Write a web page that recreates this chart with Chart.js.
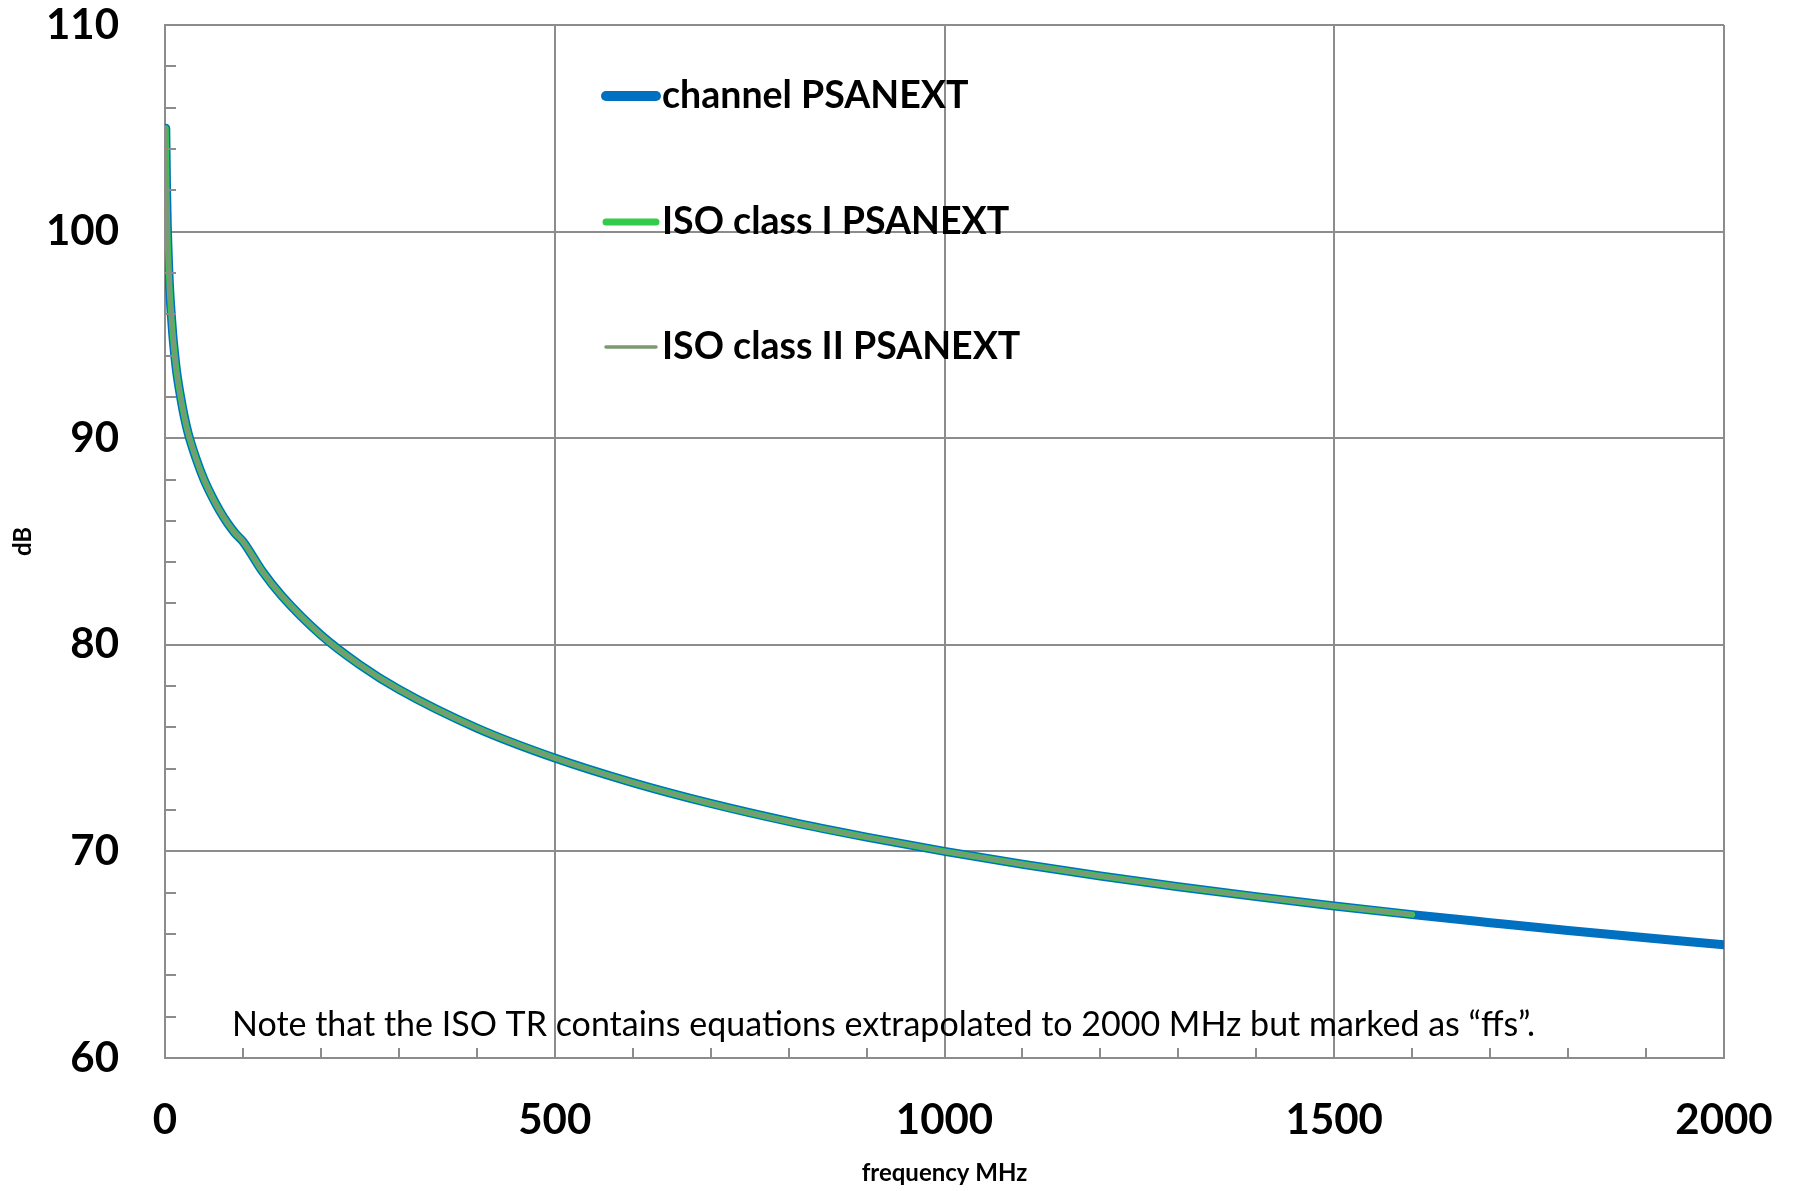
<!DOCTYPE html>
<html>
<head>
<meta charset="utf-8">
<script src="https://cdn.jsdelivr.net/npm/chart.js@4"></script>
<style>
    body { margin: 0; background: #fff; }
    #wrap { width: 1795px; height: 1191px; }
</style>
</head>
<body>
<div id="wrap"><canvas id="psanextChart" width="1795" height="1191"></canvas></div>
<script>
// DATA
const freqMHz = [1, 2, 3, 4, 5, 6, 8, 10, 12, 15, 20, 25, 30, 40, 50, 60, 70, 80, 90, 100,
    125, 150, 200, 250, 300, 400, 500, 600, 700, 800, 900, 1000, 1100, 1200, 1300, 1400, 1500,
    1600, 1700, 1800, 1900, 2000];
const channelDb = [105.0, 102.0, 100.2, 99.0, 98.0, 97.2, 96.0, 95.0, 94.2, 93.2, 92.0, 91.0, 90.2,
    89.0, 88.0, 87.2, 86.5, 85.9, 85.4, 85.0, 83.55, 82.36, 80.48, 79.03, 77.84, 75.97, 74.52, 73.33,
    72.32, 71.45, 70.69, 70.0, 69.38, 68.81, 68.29, 67.81, 67.36, 66.94, 66.55, 66.17, 65.82, 65.48];
// ISO curves stop at 1600 MHz and sit on top of the channel curve
const isoFreqMHz = freqMHz.filter(f => f <= 1600);
const isoClass1Db = channelDb.slice(0, isoFreqMHz.length);
const isoClass2Db = channelDb.slice(0, isoFreqMHz.length);

const seriesLabels = ['channel PSANEXT', 'ISO class I PSANEXT', 'ISO class II PSANEXT'];
const xTicks = [0, 500, 1000, 1500, 2000];
const yTicks = [60, 70, 80, 90, 100, 110];
const noteText = 'Note that the ISO TR contains equations extrapolated to 2000 MHz but marked as \u201cffs\u201d.';

const GRID = '#8c8c8c';

function toPoints(xs, ys) {
    return xs.map((x, i) => ({ x: x, y: ys[i] }));
}

// minor tick marks inside the plot + legend + note
const extrasPlugin = {
    id: 'extras',
    afterDatasetsDraw(chart) {
        const ctx = chart.ctx;
        const xs = chart.scales.x, ys = chart.scales.y;
        const area = chart.chartArea;
        ctx.save();
        ctx.strokeStyle = GRID;
        ctx.lineWidth = 2;
        for (let v = 100; v < 2000; v += 100) {
            if (v % 500 === 0) continue;
            const px = Math.round(xs.getPixelForValue(v));
            ctx.beginPath();
            ctx.moveTo(px, area.bottom);
            ctx.lineTo(px, area.bottom - 10);
            ctx.stroke();
        }
        for (let v = 62; v < 110; v += 2) {
            if (v % 10 === 0) continue;
            const py = Math.round(ys.getPixelForValue(v));
            ctx.beginPath();
            ctx.moveTo(area.left, py);
            ctx.lineTo(area.left + 11, py);
            ctx.stroke();
        }

        // legend
        const rows = [96, 222, 347];
        chart.data.datasets.forEach((ds, i) => {
            ctx.strokeStyle = ds.borderColor;
            ctx.lineWidth = ds.legendWidth;
            ctx.lineCap = 'round';
            ctx.beginPath();
            ctx.moveTo(606, rows[i]);
            ctx.lineTo(656, rows[i]);
            ctx.stroke();
            ctx.fillStyle = '#000';
            ctx.font = 'bold 37.5px Lato';
            ctx.textBaseline = 'middle';
            ctx.textAlign = 'left';
            ctx.fillText(ds.label, 662, rows[i]);
        });

        // note
        ctx.font = '34px Lato';
        ctx.fillStyle = '#000';
        ctx.textBaseline = 'middle';
        ctx.fillText(noteText, 232, 1025);
        ctx.restore();
    }
};

function initChart() {
    const ctx = document.getElementById('psanextChart').getContext('2d');
    new Chart(ctx, {
        type: 'line',
        data: {
            datasets: [{
                label: seriesLabels[0],
                data: toPoints(freqMHz, channelDb),
                borderColor: '#0070c0',
                borderWidth: 9,
                legendWidth: 10,
                order: 3
            }, {
                label: seriesLabels[1],
                data: toPoints(isoFreqMHz, isoClass1Db),
                borderColor: '#33cc4a',
                borderWidth: 6,
                legendWidth: 7,
                order: 2
            }, {
                label: seriesLabels[2],
                data: toPoints(isoFreqMHz, isoClass2Db),
                borderColor: '#7b9972',
                borderWidth: 4,
                legendWidth: 3.5,
                order: 1
            }]
        },
        options: {
            responsive: false,
            animation: false,
            layout: { padding: { top: 25, right: 71, left: 0, bottom: 0 } },
            elements: {
                point: { radius: 0 },
                line: { cubicInterpolationMode: 'monotone', borderCapStyle: 'round', borderJoinStyle: 'round' }
            },
            plugins: {
                legend: { display: false },
                tooltip: { enabled: false }
            },
            scales: {
                x: {
                    type: 'linear',
                    min: 0,
                    max: 2000,
                    afterBuildTicks: s => { s.ticks = xTicks.map(v => ({ value: v })); },
                    afterFit: s => { s.height = 133; s.paddingLeft = 0; s.paddingRight = 0; },
                    grid: { color: GRID, lineWidth: 2, drawTicks: false },
                    border: { color: GRID, width: 2 },
                    ticks: {
                        color: '#000',
                        padding: 37,
                        maxRotation: 0,
                        callback: v => String(v),
                        font: { family: 'Lato', weight: 'bold', size: 42 }
                    },
                    title: {
                        display: true,
                        text: 'frequency MHz',
                        color: '#000',
                        padding: { top: 0, bottom: 3.6 },
                        font: { family: 'Lato', weight: 'bold', size: 24 }
                    }
                },
                y: {
                    min: 60,
                    max: 110,
                    afterBuildTicks: s => { s.ticks = yTicks.map(v => ({ value: v })); },
                    afterFit: s => { s.width = 165; s.paddingTop = 0; s.paddingBottom = 0; },
                    grid: { color: GRID, lineWidth: 2, drawTicks: false },
                    border: { color: GRID, width: 2 },
                    ticks: {
                        color: '#000',
                        padding: 46,
                        callback: v => String(v),
                        font: { family: 'Lato', weight: 'bold', size: 42 }
                    },
                    title: {
                        display: true,
                        text: 'dB',
                        color: '#000',
                        padding: { top: 8.6, bottom: 0 },
                        font: { family: 'Lato', weight: 'bold', size: 24 }
                    }
                }
            }
        },
        plugins: [extrasPlugin]
    });
}

initChart();
</script>
</body>
</html>
